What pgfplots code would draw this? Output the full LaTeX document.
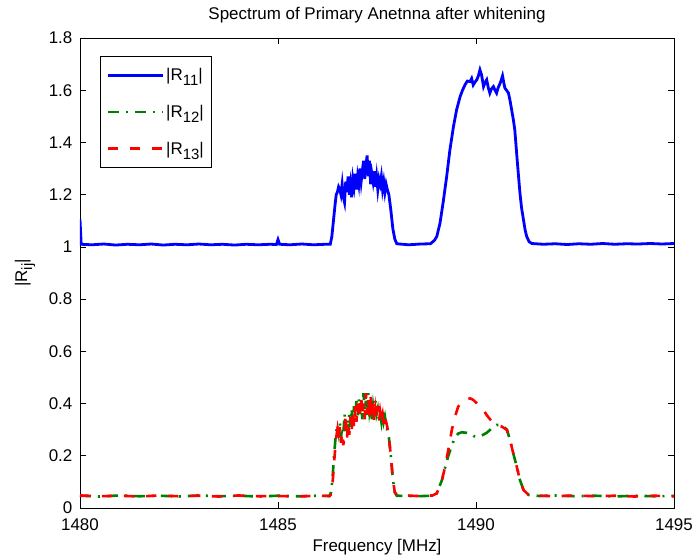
\documentclass[border=0pt]{standalone}
\usepackage{pgfplots}
\pgfplotsset{compat=1.18}
\usepackage{fontspec}
\setmainfont{Liberation Sans}
\definecolor{mblue}{RGB}{0,0,255}
\definecolor{mgreen}{RGB}{0,128,0}
\definecolor{mred}{RGB}{255,0,0}
\newcommand{\lbl}[1]{|R\raisebox{-5bp}{\fontsize{15}{15}\selectfont #1}|}
\begin{document}
\begin{tikzpicture}
\useasboundingbox (-80bp,-51bp) rectangle (613bp,508bp);
\begin{axis}[
  scale only axis, width=594bp, height=470bp,
  xmin=1480, xmax=1495, ymin=0, ymax=1.8,
  xtick={1480,1485,1490,1495},
  ytick={0,0.2,0.4,0.6,0.8,1,1.2,1.4,1.6,1.8},
  /pgf/number format/fixed,
  /pgf/number format/1000 sep={},
  /pgf/number format/assume math mode=true,
  tick align=inside, major tick length=6bp,
  tick style={black, line width=0.6bp},
  axis line style={line width=0.8bp},
  font=\fontsize{17}{20}\selectfont,
  xticklabel style={inner sep=0pt, yshift=-10.5bp},
  yticklabel style={inner sep=0pt, xshift=-7.5bp},
  title={Spectrum of Primary Anetnna after whitening},
  title style={at={(axis description cs:0.5,1.0277)}, anchor=base, inner sep=0pt},
  xlabel={Frequency [MHz]},
  xlabel style={at={(axis description cs:0.5,-0.0915)}, anchor=base, inner sep=0pt},
  ylabel={\lbl{ij}},
  ylabel style={at={(axis description cs:-0.0892,0.5)}, anchor=base, inner sep=0pt},
  legend style={at={(axis description cs:0.0337,0.9617)}, anchor=north west,
    draw=black, line width=0.8bp, fill=white, font=\fontsize{17}{20}\selectfont,
    row sep=19bp, inner xsep=6bp, inner ysep=10bp},
  legend cell align=left,
  legend image code/.code={\draw[#1] (0bp,0bp) -- (55bp,0bp);},
]
\addplot[mblue, line width=2.8bp] coordinates {
(1480.00,1.105)(1480.03,1.010)(1480.3,1.008)(1480.6,1.011)(1480.9,1.007)(1481.2,1.010)
(1481.5,1.008)(1481.8,1.011)(1482.1,1.007)(1482.4,1.010)(1482.7,1.008)(1483.0,1.011)
(1483.3,1.008)(1483.6,1.010)(1483.9,1.007)(1484.2,1.010)(1484.5,1.008)(1484.8,1.010)
(1484.96,1.009)(1485.0,1.028)(1485.04,1.010)(1485.3,1.008)(1485.6,1.011)(1485.9,1.008)
(1486.2,1.010)(1486.32,1.010)(1486.36,1.04)(1486.40,1.10)(1486.44,1.16)(1486.47,1.20)
(1486.50,1.21)(1486.53,1.23)(1486.56,1.22)(1486.59,1.20)(1486.62,1.24)(1486.65,1.19)
(1486.68,1.17)(1486.71,1.25)(1486.74,1.21)(1486.77,1.27)(1486.80,1.20)(1486.83,1.24)
(1486.86,1.19)(1486.89,1.26)(1486.92,1.23)(1486.95,1.28)(1486.98,1.22)(1487.01,1.27)
(1487.04,1.24)(1487.07,1.30)(1487.10,1.25)(1487.13,1.29)(1487.16,1.33)(1487.19,1.26)
(1487.22,1.31)(1487.25,1.35)(1487.28,1.27)(1487.31,1.33)(1487.34,1.24)(1487.37,1.28)
(1487.40,1.25)(1487.43,1.29)(1487.46,1.23)(1487.49,1.27)(1487.52,1.22)(1487.55,1.26)
(1487.58,1.24)(1487.61,1.27)(1487.64,1.22)(1487.67,1.25)(1487.70,1.21)(1487.73,1.24)
(1487.76,1.22)(1487.80,1.20)(1487.85,1.14)(1487.90,1.07)(1487.95,1.03)(1488.00,1.012)
(1488.3,1.008)(1488.6,1.011)(1488.85,1.012)(1488.95,1.025)(1489.01,1.04)(1489.09,1.09)
(1489.17,1.17)(1489.26,1.27)(1489.34,1.37)(1489.43,1.46)(1489.51,1.525)(1489.60,1.576)
(1489.66,1.60)(1489.72,1.62)(1489.78,1.635)(1489.85,1.633)(1489.89,1.645)(1489.93,1.62)
(1489.97,1.63)(1490.02,1.64)(1490.06,1.655)(1490.10,1.678)(1490.14,1.659)(1490.19,1.614)
(1490.23,1.63)(1490.27,1.64)(1490.31,1.61)(1490.35,1.589)(1490.39,1.605)(1490.44,1.614)
(1490.48,1.60)(1490.52,1.589)(1490.56,1.61)(1490.61,1.627)(1490.64,1.64)(1490.67,1.655)
(1490.70,1.63)(1490.73,1.608)(1490.77,1.60)(1490.82,1.589)(1490.86,1.56)(1490.90,1.525)
(1490.94,1.49)(1490.98,1.448)(1491.01,1.39)(1491.04,1.333)(1491.08,1.26)(1491.11,1.206)
(1491.15,1.15)(1491.20,1.103)(1491.24,1.065)(1491.28,1.04)(1491.34,1.02)(1491.41,1.013)
(1491.7,1.010)(1492.0,1.012)(1492.3,1.009)(1492.6,1.012)(1492.9,1.010)(1493.2,1.013)
(1493.5,1.010)(1493.8,1.012)(1494.1,1.011)(1494.4,1.013)(1494.7,1.011)(1495.0,1.013)
};
\addlegendentry{\lbl{11}}
\addplot[mgreen, line width=2.6bp, dash pattern=on 11bp off 7bp on 2bp off 7bp] coordinates {
(1480.00,0.047)(1480.5,0.044)(1481.0,0.048)(1481.5,0.045)(1482.0,0.047)(1482.5,0.044)
(1483.0,0.048)(1483.5,0.045)(1484.0,0.047)(1484.5,0.044)(1485.0,0.047)(1485.5,0.045)
(1486.0,0.047)(1486.30,0.046)(1486.34,0.06)(1486.38,0.12)(1486.42,0.21)(1486.46,0.28)
(1486.50,0.32)(1486.53,0.29)(1486.56,0.33)(1486.59,0.27)(1486.62,0.31)(1486.65,0.28)
(1486.68,0.36)(1486.71,0.30)(1486.74,0.34)(1486.77,0.29)(1486.80,0.36)(1486.83,0.31)
(1486.86,0.38)(1486.89,0.32)(1486.92,0.39)(1486.95,0.34)(1486.98,0.41)(1487.01,0.35)
(1487.04,0.42)(1487.07,0.36)(1487.10,0.40)(1487.13,0.34)(1487.16,0.44)(1487.19,0.37)
(1487.22,0.41)(1487.25,0.35)(1487.28,0.44)(1487.31,0.37)(1487.34,0.40)(1487.37,0.34)
(1487.40,0.39)(1487.43,0.35)(1487.46,0.41)(1487.49,0.36)(1487.52,0.38)(1487.55,0.34)
(1487.58,0.36)(1487.61,0.33)(1487.64,0.37)(1487.67,0.33)(1487.70,0.35)(1487.73,0.32)
(1487.76,0.30)(1487.80,0.27)(1487.85,0.20)(1487.90,0.11)(1487.95,0.06)(1488.00,0.047)
(1488.5,0.045)(1488.9,0.047)(1489.01,0.056)(1489.14,0.107)(1489.22,0.155)(1489.30,0.20)
(1489.39,0.24)(1489.47,0.27)(1489.55,0.285)(1489.64,0.29)(1489.76,0.288)(1489.85,0.285)
(1489.95,0.275)(1490.05,0.272)(1490.15,0.278)(1490.27,0.288)(1490.40,0.305)(1490.52,0.318)
(1490.65,0.318)(1490.78,0.30)(1490.86,0.26)(1490.94,0.21)(1491.03,0.158)(1491.11,0.107)
(1491.20,0.069)(1491.33,0.05)(1491.6,0.046)(1492.0,0.048)(1492.5,0.045)(1493.0,0.047)
(1493.5,0.044)(1494.0,0.047)(1494.5,0.045)(1495.0,0.046)
};
\addlegendentry{\lbl{12}}
\addplot[mred, line width=2.6bp, dash pattern=on 10.5bp off 11.5bp] coordinates {
(1480.00,0.048)(1480.5,0.045)(1481.0,0.047)(1481.5,0.044)(1482.0,0.048)(1482.5,0.045)
(1483.0,0.047)(1483.5,0.044)(1484.0,0.048)(1484.5,0.045)(1485.0,0.046)(1485.5,0.044)
(1486.0,0.047)(1486.30,0.046)(1486.33,0.05)(1486.38,0.10)(1486.43,0.20)(1486.47,0.27)
(1486.50,0.30)(1486.53,0.26)(1486.56,0.31)(1486.59,0.25)(1486.62,0.29)(1486.65,0.24)
(1486.68,0.30)(1486.71,0.36)(1486.74,0.26)(1486.77,0.33)(1486.80,0.28)(1486.83,0.35)
(1486.86,0.29)(1486.89,0.37)(1486.92,0.31)(1486.95,0.39)(1486.98,0.33)(1487.01,0.40)
(1487.04,0.34)(1487.07,0.38)(1487.10,0.43)(1487.13,0.35)(1487.16,0.40)(1487.19,0.34)
(1487.22,0.44)(1487.25,0.36)(1487.28,0.42)(1487.31,0.34)(1487.34,0.43)(1487.37,0.35)
(1487.40,0.41)(1487.43,0.33)(1487.46,0.38)(1487.49,0.34)(1487.52,0.39)(1487.55,0.33)
(1487.58,0.37)(1487.61,0.34)(1487.64,0.36)(1487.67,0.32)(1487.70,0.35)(1487.73,0.33)
(1487.76,0.31)(1487.80,0.27)(1487.85,0.20)(1487.90,0.11)(1487.95,0.06)(1488.00,0.05)
(1488.5,0.046)(1488.9,0.048)(1489.01,0.056)(1489.14,0.107)(1489.22,0.158)(1489.30,0.222)
(1489.39,0.299)(1489.47,0.35)(1489.55,0.388)(1489.64,0.407)(1489.76,0.414)(1489.85,0.42)
(1489.93,0.414)(1490.06,0.395)(1490.19,0.375)(1490.27,0.356)(1490.40,0.331)(1490.52,0.318)
(1490.65,0.312)(1490.78,0.299)(1490.86,0.26)(1490.94,0.21)(1491.03,0.158)(1491.11,0.107)
(1491.20,0.069)(1491.33,0.05)(1491.6,0.047)(1492.0,0.045)(1492.5,0.048)(1493.0,0.045)
(1493.5,0.047)(1494.0,0.044)(1494.5,0.047)(1495.0,0.045)
};
\addlegendentry{\lbl{13}}
\end{axis}
\end{tikzpicture}
\end{document}
